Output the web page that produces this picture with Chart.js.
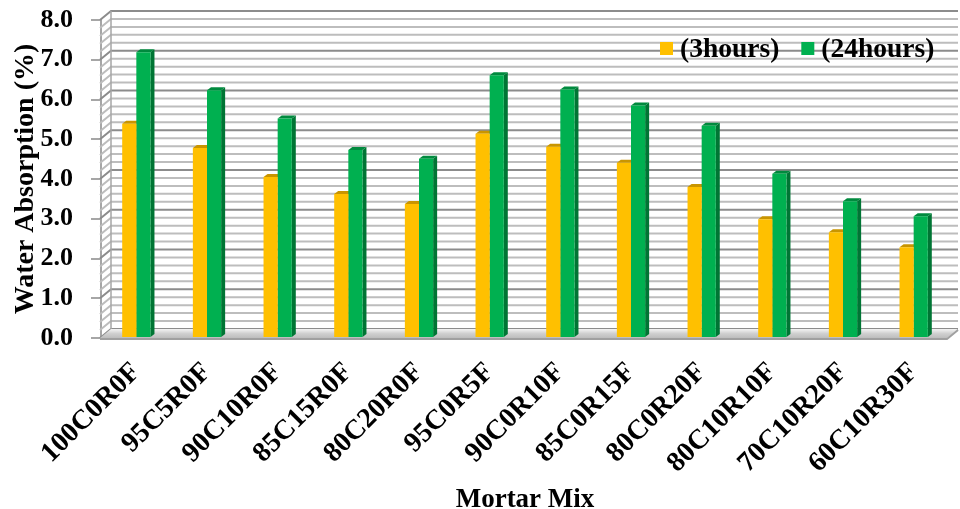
<!DOCTYPE html>
<html>
<head>
<meta charset="utf-8">
<script src="https://cdn.jsdelivr.net/npm/chart.js@4.4.1/dist/chart.umd.min.js"></script>
<style>
  html, body { margin: 0; padding: 0; background: #ffffff; }
  #wrap { width: 960px; height: 509px; position: relative; }
</style>
</head>
<body>
<div id="wrap"><canvas id="chart" width="960" height="509"></canvas></div>
<script>
// Mortar mixes and water absorption after 3 h and 24 h immersion (%)
const mixes = ['100C0R0F', '95C5R0F', '90C10R0F', '85C15R0F', '80C20R0F', '95C0R5F',
               '90C0R10F', '85C0R15F', '80C0R20F', '80C10R10F', '70C10R20F', '60C10R30F'];
const absorption3h  = [5.39, 4.78, 4.05, 3.62, 3.37, 5.14, 4.81, 4.41, 3.80, 2.99, 2.66, 2.28];
const absorption24h = [7.19, 6.23, 5.52, 4.73, 4.51, 6.61, 6.25, 5.85, 5.34, 4.13, 3.44, 3.06];
const seriesNames = ['(3hours)', '(24hours)'];
const yTicks = [0, 1, 2, 3, 4, 5, 6, 7, 8];

const YELLOW = '#FFC000', GREEN = '#00B050';
const shade = { [YELLOW]: { top: '#C99500', side: '#D9A000' },
                [GREEN]:  { top: '#008A3E', side: '#007534' } };
const SERIF = '"Liberation Serif", "Times New Roman", serif';

// depth of the box (walls/floor) and of each bar, in pixels
const WALL_DX = 11, WALL_DY = 9;
const BAR_DX = 4, BAR_DY = 3;

// Back wall, side wall and floor of the pseudo-3D plot box
const boxPlugin = {
  id: 'box3d',
  beforeDatasetsDraw(chart) {
    const { ctx, chartArea: a, scales: { y } } = chart;
    const L = a.left - 1, R = a.right - 2, B = y.getPixelForValue(0), T = y.getPixelForValue(8);
    ctx.save();
    // back wall gridlines (minor every 0.2, major every 1.0)
    for (let i = 0; i <= 40; i++) {
      const v = i / 5;
      const py = y.getPixelForValue(v);
      const major = i % 5 === 0;
      ctx.strokeStyle = major ? '#8C8C8C' : '#BDBDBD';
      ctx.lineWidth = 2;
      ctx.beginPath();
      ctx.moveTo(L, py);
      ctx.lineTo(L + WALL_DX, py - WALL_DY);
      ctx.lineTo(R + WALL_DX, py - WALL_DY);
      ctx.stroke();
    }
    // side wall edge
    ctx.strokeStyle = '#A6A6A6';
    ctx.lineWidth = 1.5;
    ctx.beginPath();
    ctx.moveTo(L + WALL_DX, T - WALL_DY);
    ctx.lineTo(L + WALL_DX, B - WALL_DY);
    ctx.stroke();
    // floor
    const g = ctx.createLinearGradient(0, B - WALL_DY, 0, B);
    g.addColorStop(0, '#F4F4F4');
    g.addColorStop(0.5, '#D0D0D0');
    g.addColorStop(1, '#BDBDBD');
    ctx.fillStyle = g;
    ctx.beginPath();
    ctx.moveTo(L, B);
    ctx.lineTo(R, B);
    ctx.lineTo(R + WALL_DX, B - WALL_DY);
    ctx.lineTo(L + WALL_DX, B - WALL_DY);
    ctx.closePath();
    ctx.fill();
    ctx.strokeStyle = '#A0A0A0';
    ctx.lineWidth = 2;
    ctx.beginPath();
    ctx.moveTo(L, B + 1);
    ctx.lineTo(R, B + 1);
    ctx.lineTo(R + WALL_DX, B - WALL_DY + 1);
    ctx.stroke();

    // bar tops and side faces, drawn behind the front faces
    chart.data.datasets.forEach((ds, di) => {
      const meta = chart.getDatasetMeta(di);
      const c = shade[ds.backgroundColor];
      meta.data.forEach(bar => {
        const x0 = bar.x - bar.width / 2, x1 = bar.x + bar.width / 2;
        const top = bar.y, base = bar.base;
        ctx.fillStyle = c.side;
        ctx.beginPath();
        ctx.moveTo(x1, base);
        ctx.lineTo(x1, top);
        ctx.lineTo(x1 + BAR_DX, top - BAR_DY);
        ctx.lineTo(x1 + BAR_DX, base - BAR_DY);
        ctx.closePath();
        ctx.fill();
        ctx.fillStyle = c.top;
        ctx.beginPath();
        ctx.moveTo(x0, top);
        ctx.lineTo(x1, top);
        ctx.lineTo(x1 + BAR_DX, top - BAR_DY);
        ctx.lineTo(x0 + BAR_DX, top - BAR_DY);
        ctx.closePath();
        ctx.fill();
      });
    });
    ctx.restore();
  }
};

// Legend placed inside the plot, upper right
const legendPlugin = {
  id: 'innerLegend',
  afterDraw(chart) {
    const { ctx } = chart;
    ctx.save();
    ctx.font = 'bold 27.5px ' + SERIF;
    ctx.textBaseline = 'middle';
    let x = 660;
    const cy = 49;
    chart.data.datasets.forEach(ds => {
      ctx.fillStyle = ds.backgroundColor;
      ctx.fillRect(x, cy - 7, 13, 13);
      x += 20;
      ctx.fillStyle = '#000000';
      ctx.fillText(ds.label, x, cy + 1);
      x += ctx.measureText(ds.label).width + 22;
    });
    ctx.restore();
  }
};

new Chart(document.getElementById('chart'), {
  type: 'bar',
  data: {
    labels: mixes,
    datasets: [
      { label: seriesNames[0], data: absorption3h,  backgroundColor: YELLOW, borderWidth: 0 },
      { label: seriesNames[1], data: absorption24h, backgroundColor: GREEN,  borderWidth: 0 }
    ]
  },
  options: {
    responsive: false,
    animation: false,
    devicePixelRatio: 1,
    layout: { padding: { top: 20, right: 11, bottom: 0, left: 0 } },
    datasets: { bar: { categoryPercentage: 0.4, barPercentage: 1.0 } },
    plugins: {
      legend: { display: false },
      tooltip: { enabled: false }
    },
    scales: {
      x: {
        grid: { display: false, drawTicks: false },
        border: { display: false },
        ticks: {
          color: '#000000',
          font: { family: SERIF, size: 28, weight: 'bold' },
          minRotation: 45, maxRotation: 45,
          autoSkip: false,
          padding: 18
        },
        title: {
          display: true, text: 'Mortar Mix', color: '#000000',
          font: { family: SERIF, size: 27, weight: 'bold', lineHeight: 0.7 },
          padding: { top: 0, bottom: 0 }
        },
        afterFit(scale) {
          scale.height = 171;
          scale.paddingLeft = 0; scale.paddingRight = 0;
        }
      },
      y: {
        min: 0, max: 8,
        afterBuildTicks(scale) { scale.ticks = yTicks.map(v => ({ value: v })); },
        grid: { drawOnChartArea: false, drawTicks: true, tickLength: 10, color: '#A6A6A6', lineWidth: 2 },
        border: { display: true, color: '#A6A6A6', width: 2 },
        ticks: {
          color: '#000000',
          font: { family: SERIF, size: 26, weight: 'bold' },
          padding: 18,
          callback: v => Number(v).toFixed(1)
        },
        title: {
          display: true, text: 'Water Absorption (%)', color: '#000000',
          font: { family: SERIF, size: 28, weight: 'bold', lineHeight: 1 },
          padding: { top: 12, bottom: 0 }
        },
        afterFit(scale) {
          scale.width = 101;
          scale.paddingTop = 0; scale.paddingBottom = 0;
        }
      }
    }
  },
  plugins: [boxPlugin, legendPlugin]
});
</script>
</body>
</html>
